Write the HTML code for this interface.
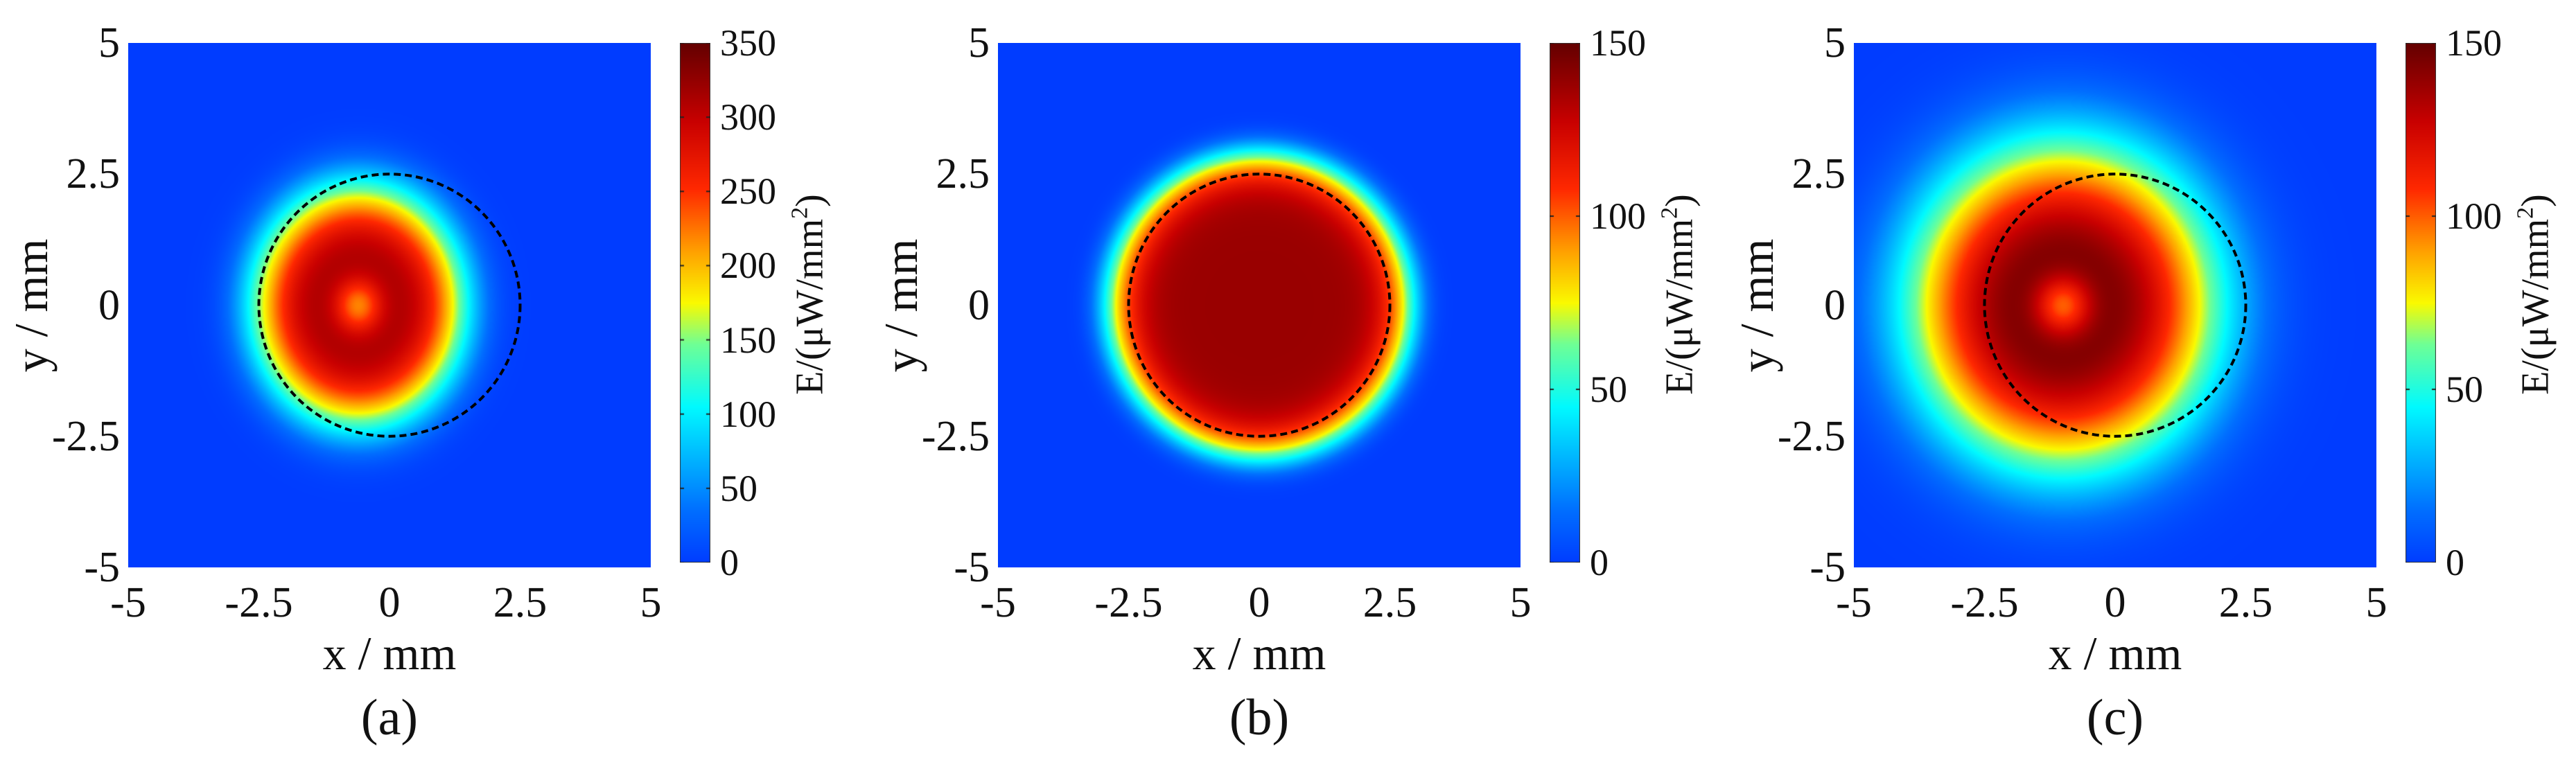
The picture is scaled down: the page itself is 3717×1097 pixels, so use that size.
<!DOCTYPE html>
<html><head><meta charset="utf-8">
<style>
html,body{margin:0;padding:0;background:#fff;}
#root{position:relative;width:3717px;height:1097px;overflow:hidden;font-family:"Liberation Serif",serif;color:#111;}
canvas{position:absolute;}
.t{position:absolute;font-size:62px;line-height:1;white-space:nowrap;}
</style></head>
<body>
<div id="root"></div>
<script>
// ---- data ----
const panelLabels = ["(a)", "(b)", "(c)"];
const colorMax = [350, 150, 150];
const cbTicks = [[0,50,100,150,200,250,300,350],[0,50,100,150],[0,50,100,150]];
const axisTicks = [-5, -2.5, 0, 2.5, 5];
const axisTickLabels = ["-5", "-2.5", "0", "2.5", "5"];
const beamCenterX = [-0.6, 0, -1.0];
const beamCenterY = [0, 0, 0];
const beamPeak = [320, 138, 150];
const beamWidth = [2.05, 2.92, 2.95];
const beamOrder = [4, 8, 3];
const beamDip = [100, 0, 50];
const beamDipWidth = [0.45, 0.5, 0.55];
const beamYScale = [0.88, 1.0, 0.95];
const circleRadius = [2.5, 2.5, 2.5];

// ---- layout ----
const plotLeft = [185, 1440, 2675];
const plotTop = 62, plotW = 754, plotH = 757;
const cbOff = 796, cbW = 44, cbTop = 62, cbH = 750;

const root = document.getElementById('root');
const stops = [[0,[0,60,255]],[0.1,[0,110,255]],[0.3,[0,250,255]],[0.42,[110,255,150]],[0.5,[250,250,0]],[0.6,[255,160,0]],[0.72,[255,40,0]],[0.85,[200,0,0]],[1,[100,0,0]]];
function jet(v){v=Math.max(0,Math.min(1,v));for(let i=1;i<stops.length;i++){if(v<=stops[i][0]){const a=stops[i-1],b=stops[i];const t=(v-a[0])/(b[0]-a[0]);return [0,1,2].map(k=>Math.round(a[1][k]+(b[1][k]-a[1][k])*t));}}return stops[stops.length-1][1];}

function addText(txt,x,y,name,align,extra){
  const d=document.createElement('div');d.className='t';d.textContent=txt;
  
  
  let tr=align==='r'?'translate(-100%,-50%)':align==='l'?'translate(0,-50%)':'translate(-50%,-50%)';
  d.style.left=x+'px';d.style.top=y+'px';d.style.transform=tr+(extra||'');
  root.appendChild(d);return d;
}

for(let p=0;p<3;p++){
  const L=plotLeft[p];
  const xs=v=>L+(v+5)/10*plotW;
  const ys=v=>plotTop+(5-v)/10*plotH;
  const c=document.createElement('canvas');
  c.width=plotW;c.height=plotH;c.style.left=L+'px';c.style.top=plotTop+'px';
  
  
  root.appendChild(c);
  const ctx=c.getContext('2d');const img=ctx.createImageData(plotW,plotH);
  for(let j=0;j<plotH;j++){const y=5-j/plotH*10;for(let i=0;i<plotW;i++){const x=-5+i/plotW*10;
    const dx=x-beamCenterX[p],dy=(y-beamCenterY[p])*beamYScale[p];const r=Math.sqrt(dx*dx+dy*dy);
    let f=beamPeak[p]*Math.exp(-Math.pow(r/beamWidth[p],beamOrder[p]))-beamDip[p]*Math.exp(-Math.pow(r/beamDipWidth[p],2));
    const col=jet(f/colorMax[p]);const k=(j*plotW+i)*4;img.data[k]=col[0];img.data[k+1]=col[1];img.data[k+2]=col[2];img.data[k+3]=255;}}
  ctx.putImageData(img,0,0);
  const ns='http://www.w3.org/2000/svg';
  const svg=document.createElementNS(ns,'svg');svg.setAttribute('width',3717);svg.setAttribute('height',1097);
  svg.style.position='absolute';svg.style.left='0';svg.style.top='0';
  const el=document.createElementNS(ns,'ellipse');
  el.setAttribute('cx',xs(0));el.setAttribute('cy',ys(0));
  el.setAttribute('rx',xs(circleRadius[p])-xs(0));el.setAttribute('ry',ys(0)-ys(circleRadius[p]));
  el.setAttribute('fill','none');el.setAttribute('stroke','#000');el.setAttribute('stroke-width','4');el.setAttribute('stroke-dasharray','10 6');
  
  
  svg.appendChild(el);root.appendChild(svg);
  axisTicks.forEach((t,k)=>{
    addText(axisTickLabels[k],L-12,ys(t),'y-tick-label','r');
    addText(axisTickLabels[k],xs(t),870,'x-tick-label','c');
  });
  const yt=addText('y / mm',L-140,plotTop+plotH/2,'y-axis-title','c',' rotate(-90deg)');
  yt.style.fontSize='68px';
  const xt=addText('x / mm',L+plotW/2,943,'x-axis-title','c');
  xt.style.fontSize='68px';
  const pl=addText(panelLabels[p],L+plotW/2,1036,'panel-label','c');
  pl.style.fontSize='74px';
  const cb=document.createElement('canvas');cb.width=cbW;cb.height=cbH;
  cb.style.left=(L+cbOff)+'px';cb.style.top=cbTop+'px';
  
  
  root.appendChild(cb);
  const cc=cb.getContext('2d');
  for(let j=0;j<cbH;j++){const col=jet(1-j/cbH);cc.fillStyle='rgb('+col.join(',')+')';cc.fillRect(0,j,cbW,1);}
  cc.strokeStyle='#333';cc.lineWidth=2;cc.strokeRect(0,0,cbW,cbH);
  cbTicks[p].forEach(t=>{
    const y=cbTop+cbH-(t/colorMax[p])*cbH;
    cc.fillStyle='#222';cc.fillRect(0,y-cbTop-1,6,2);cc.fillRect(cbW-6,y-cbTop-1,6,2);
    const tl=addText(String(t),L+cbOff+cbW+14,y,'colorbar-tick-label','l');
    tl.style.fontSize='54px';
  });
  const lab=addText('',L+cbOff+cbW+142,425,'colorbar-title','c',' rotate(-90deg)');
  lab.innerHTML='E/(μW/mm<sup style="font-size:34px;vertical-align:22px">2</sup>)';
  lab.style.fontSize='56px';
}
</script>
</body></html>
